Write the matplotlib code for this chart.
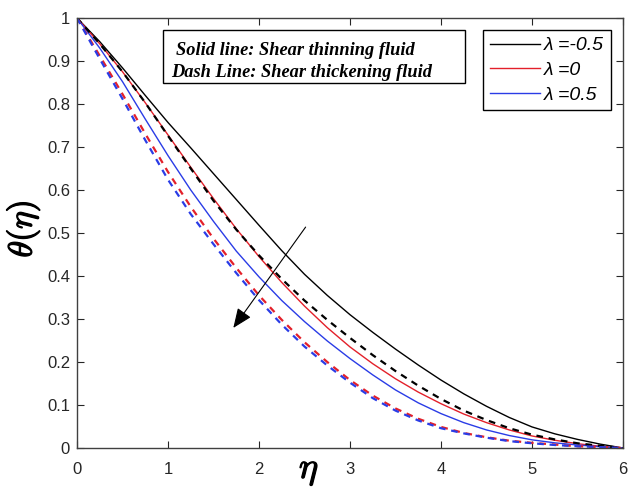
import numpy as np
import matplotlib
matplotlib.use("Agg")
import matplotlib.pyplot as plt
import matplotlib.patheffects as pe
from matplotlib.patches import Rectangle

plt.rcParams["mathtext.fontset"] = "cm"

# eta grid and theta(eta) values
eta = [0.0, 0.25, 0.5, 0.75, 1.0, 1.25, 1.5, 1.75, 2.0, 2.25, 2.5, 2.75, 3.0,
       3.25, 3.5, 3.75, 4.0, 4.25, 4.5, 4.75, 5.0, 5.25, 5.5, 5.75, 6.0]

# solid lines: shear thinning fluid
thin_m05 = [1.0, 0.945, 0.884, 0.82, 0.757, 0.698, 0.638, 0.578, 0.518, 0.459, 0.404, 0.355, 0.31,
            0.269, 0.23, 0.193, 0.158, 0.126, 0.097, 0.071, 0.049, 0.033, 0.02, 0.009, 0.0]
thin_0 = [1.0, 0.94, 0.875, 0.803, 0.728, 0.653, 0.58, 0.51, 0.445, 0.385, 0.33, 0.28, 0.235,
          0.196, 0.161, 0.13, 0.103, 0.079, 0.059, 0.042, 0.028, 0.018, 0.01, 0.004, 0.0]
thin_05 = [1.0, 0.93, 0.852, 0.765, 0.68, 0.6, 0.527, 0.458, 0.398, 0.343, 0.294, 0.249, 0.208,
           0.17, 0.135, 0.105, 0.08, 0.059, 0.042, 0.029, 0.019, 0.012, 0.007, 0.003, 0.0]

# dashed lines: shear thickening fluid
thick_m05 = [1.0, 0.94, 0.875, 0.803, 0.726, 0.65, 0.575, 0.508, 0.448, 0.393, 0.343, 0.298, 0.256,
             0.216, 0.179, 0.145, 0.114, 0.087, 0.065, 0.046, 0.031, 0.02, 0.011, 0.005, 0.0]
thick_0 = [1.0, 0.912, 0.823, 0.731, 0.642, 0.561, 0.487, 0.419, 0.355, 0.298, 0.246, 0.2, 0.158,
           0.122, 0.092, 0.068, 0.049, 0.035, 0.025, 0.017, 0.012, 0.008, 0.004, 0.002, 0.0]
thick_05 = [1.0, 0.905, 0.812, 0.716, 0.624, 0.544, 0.474, 0.407, 0.344, 0.287, 0.236, 0.192, 0.152,
            0.116, 0.087, 0.064, 0.046, 0.034, 0.024, 0.016, 0.011, 0.007, 0.004, 0.002, 0.0]

labels = ["\u03bb =-0.5", "\u03bb =0", "\u03bb =0.5"]
colors = ["#000000", "#e3202a", "#2a3ce6"]

fig = plt.figure(figsize=(6.4, 4.96), dpi=100)
ax = fig.add_axes([77 / 640, 48 / 496, 546 / 640, 430 / 496])

solid = [thin_m05, thin_0, thin_05]
dashed = [thick_m05, thick_0, thick_05]
for ys, c, lab in zip(solid, colors, labels):
    ax.plot(eta, ys, color=c, lw=1.0, label=lab)
for ys, c in zip(dashed, colors):
    ax.plot(eta, ys, color=c, lw=1.6, ls=(0, (3, 2.6)))

ax.set_xlim(0, 6)
ax.set_ylim(0, 1)
ax.set_xticks(range(7))
ax.set_yticks(np.arange(0, 1.01, 0.1))
ax.set_yticklabels(["0", "0.1", "0.2", "0.3", "0.4", "0.5", "0.6", "0.7", "0.8", "0.9", "1"])
ax.tick_params(direction="in", top=True, right=True, length=5, width=0.8,
               labelsize=12, colors="#262626")
ax.tick_params(axis="x", pad=10)
ax.tick_params(axis="y", pad=5)
for t in ax.get_xticklabels() + ax.get_yticklabels():
    t.set_fontfamily("Liberation Sans")
for sp in ax.spines.values():
    sp.set_color("#404040")
    sp.set_linewidth(1.0)

bold = [pe.withStroke(linewidth=0.9, foreground="k")]
fig.text(23 / 640, 1 - 229 / 496, r"$\theta(\eta)$", rotation=90, ha="center", va="center",
         fontsize=24, path_effects=bold)
fig.text(309 / 640, 1 - 471 / 496, r"$\eta$", ha="center", va="center", fontsize=26,
         path_effects=bold)

# arrow showing increasing lambda
ax.annotate("", xy=(1.70, 0.274), xytext=(2.53, 0.519),
            arrowprops=dict(arrowstyle="-|>,head_length=0.6,head_width=0.25",
                            color="k", lw=0.8, mutation_scale=20))

# text box
ax.add_patch(Rectangle((0.157, 0.849), 0.553, 0.123, transform=ax.transAxes,
                       fill=False, ec="k", lw=1.0, zorder=5))
ax.text(0.181, 0.925, "Solid line: Shear thinning fluid", transform=ax.transAxes,
        family="Liberation Serif", style="italic", weight="bold", fontsize=13.2, va="center")
ax.text(0.172, 0.874, "Dash Line: Shear thickening fluid", transform=ax.transAxes,
        family="Liberation Serif", style="italic", weight="bold", fontsize=13.2, va="center")

leg = ax.legend(loc="upper right", bbox_to_anchor=(0.978, 0.972), borderaxespad=0,
                prop=dict(family="Liberation Sans", style="italic", size=14),
                handlelength=2.6, labelspacing=0.36, handletextpad=0.2,
                borderpad=0.35, fancybox=False, framealpha=1)
leg.get_frame().set_edgecolor("k")
leg.get_frame().set_linewidth(1.0)

fig.savefig("out.png", dpi=100)
